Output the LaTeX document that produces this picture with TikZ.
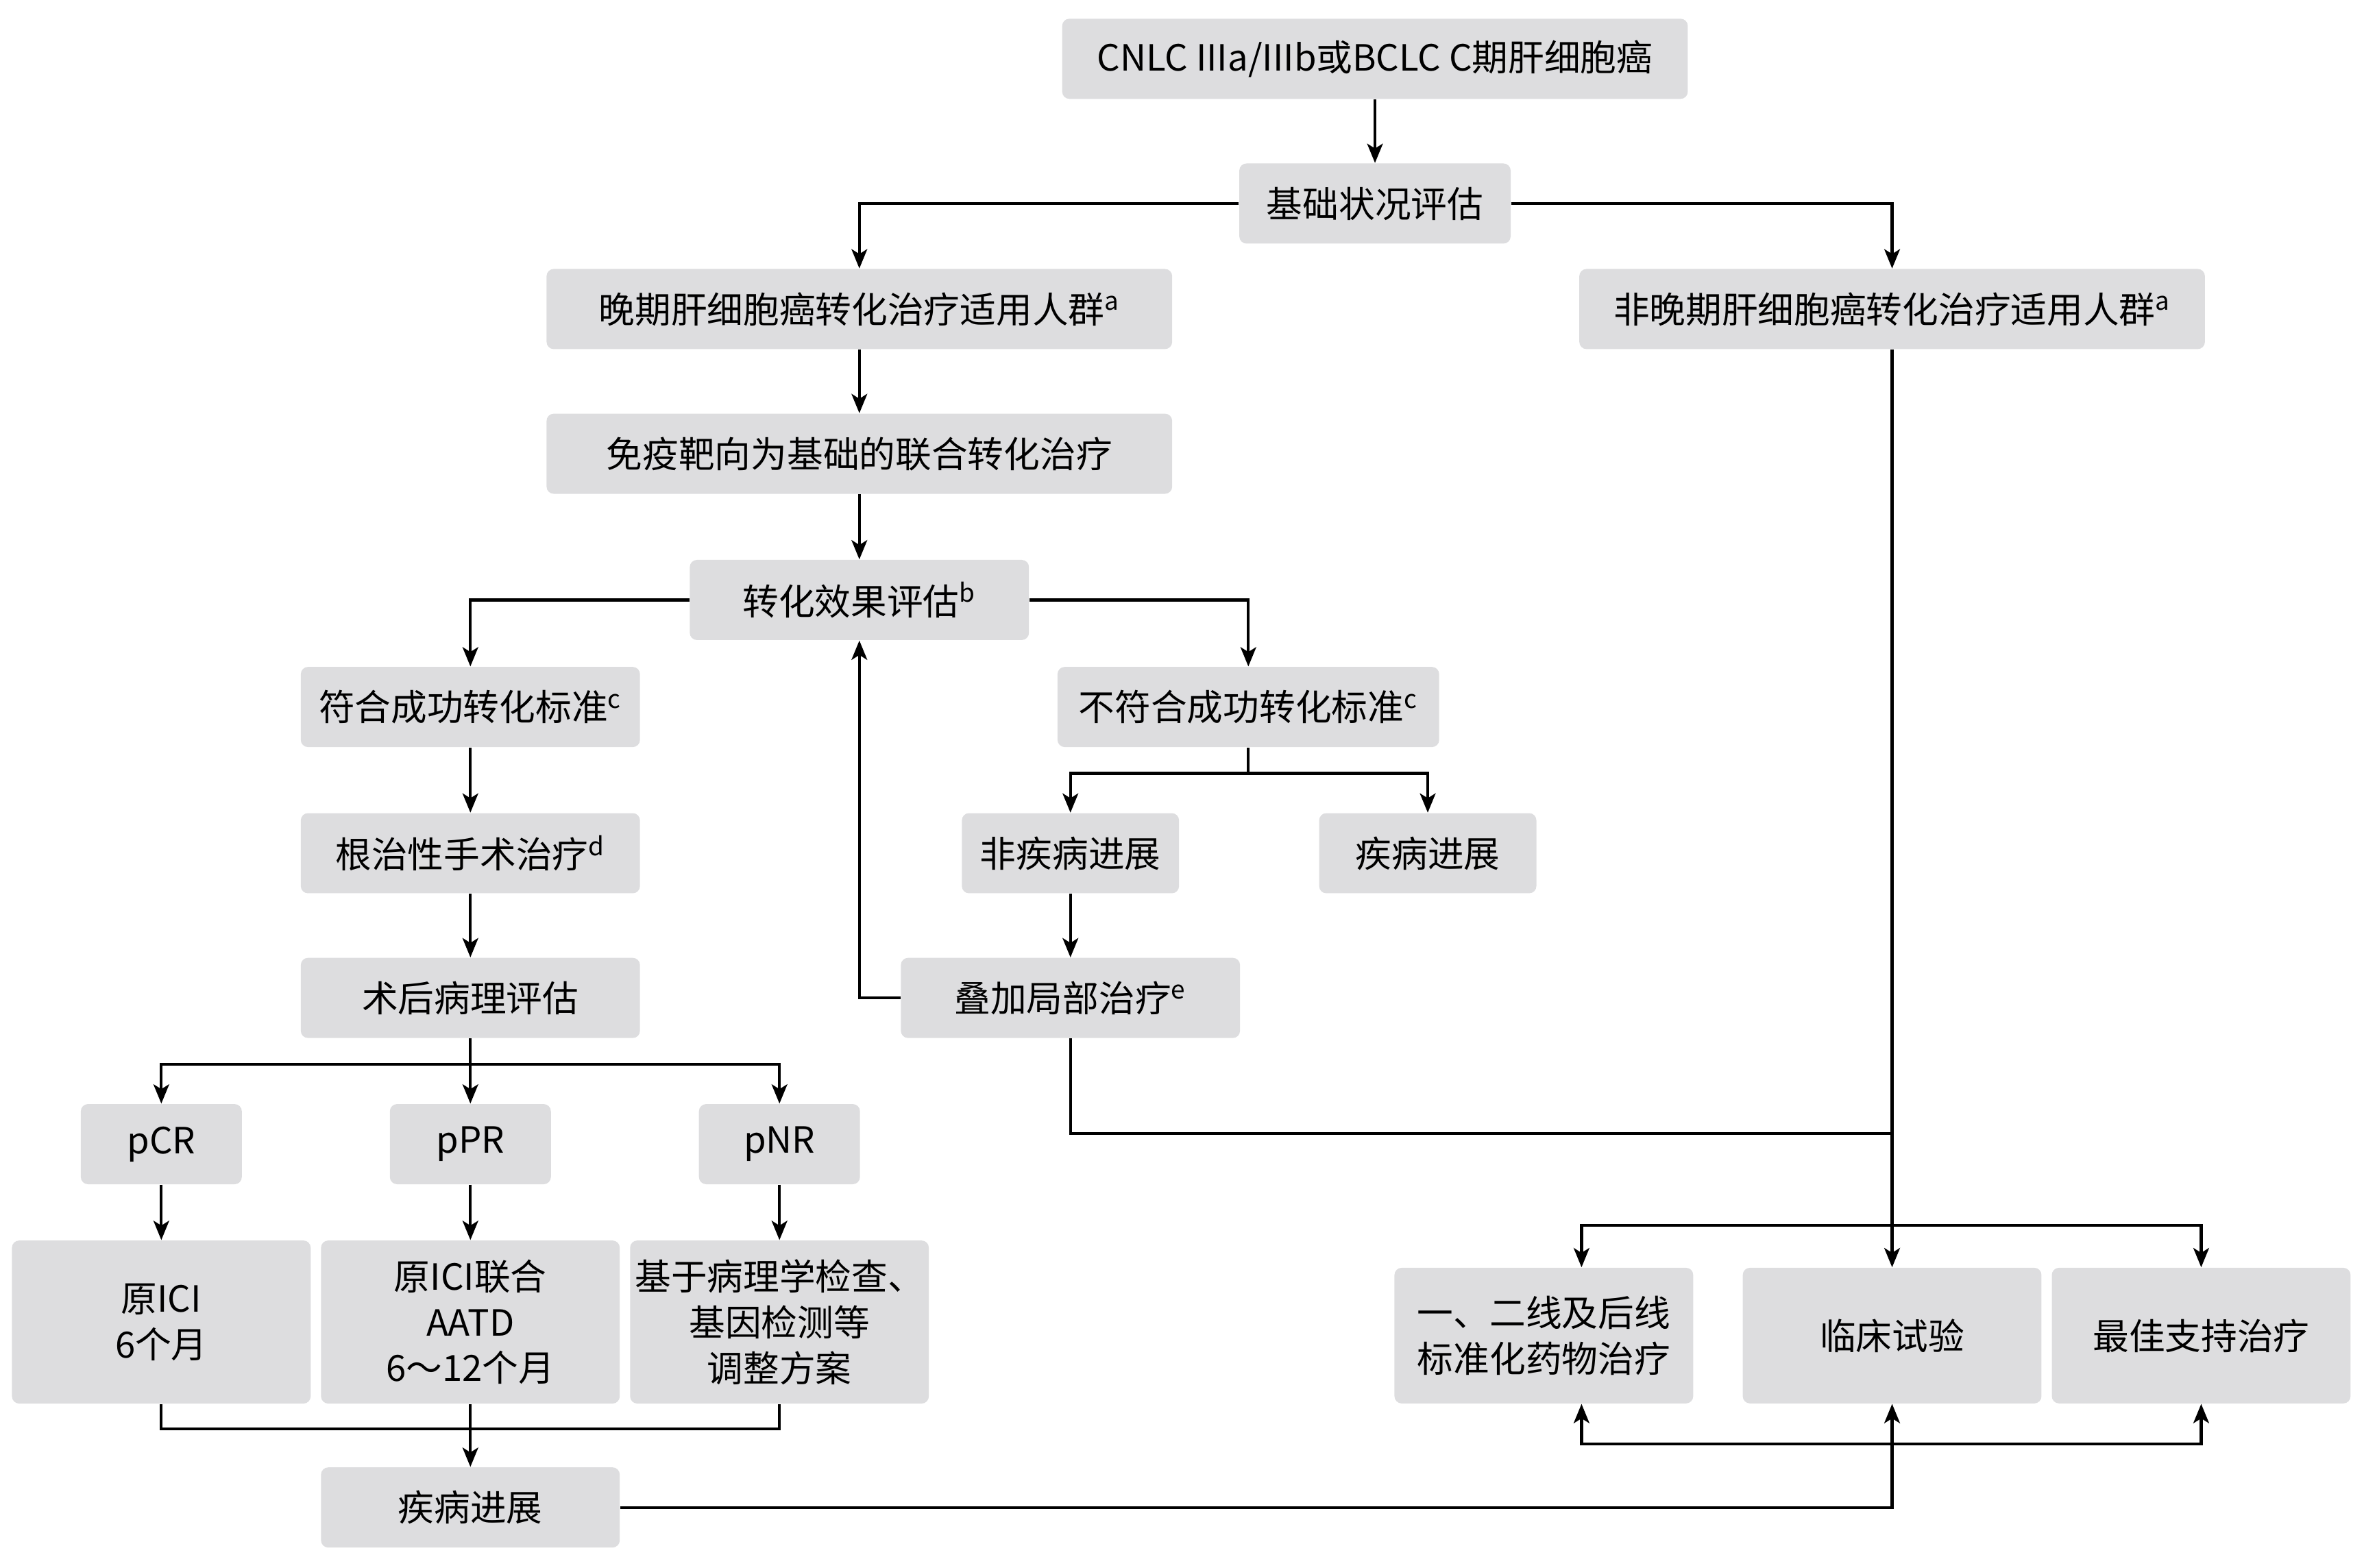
\documentclass[tikz,border=0pt]{standalone}
\usepackage{fontspec}
\setmainfont{Noto Sans CJK SC}
\usetikzlibrary{arrows.meta}
\definecolor{boxgray}{RGB}{221,221,223}
\tikzset{
  box/.style={fill=boxgray, rounded corners=3pt, inner sep=0pt, align=center,
    minimum height=1.17cm, font=\fontsize{15}{19}\selectfont},
  conn/.style={line width=1.2pt, -{Stealth[length=8pt,width=6.5pt,inset=2pt]}},
  line/.style={line width=1.2pt}
}
\begin{document}
\begin{tikzpicture}[x=0.022cm, y=-0.022cm]
        \useasboundingbox (0,0) rectangle (1568,1040);
        % top part
        \node[box, minimum width=9.13cm] (cnlc) at (912,39) {CNLC IIIa/IIIb或BCLC C期肝细胞癌};
        \node[box, minimum width=3.96cm] (base) at (912,135) {基础状况评估};
        \node[box, minimum width=9.13cm] (late) at (570,205) {晚期肝细胞癌转化治疗适用人群\textsuperscript{a}};
        \node[box, minimum width=9.13cm] (nonlate) at (1255,205) {非晚期肝细胞癌转化治疗适用人群\textsuperscript{a}};
        \node[box, minimum width=9.13cm] (immuno) at (570,301) {免疫靶向为基础的联合转化治疗};
        \node[box, minimum width=4.95cm] (evalc) at (570,398) {转化效果评估\textsuperscript{b}};
        % conversion branches
        \node[box, minimum width=4.95cm] (meet) at (312,469) {符合成功转化标准\textsuperscript{c}};
        \node[box, minimum width=5.57cm] (notmeet) at (828,469) {不符合成功转化标准\textsuperscript{c}};
        \node[box, minimum width=3.17cm] (nonprog) at (710,566) {非疾病进展};
        \node[box, minimum width=3.17cm] (prog) at (947,566) {疾病进展};
        \node[box, minimum width=4.95cm] (surgery) at (312,566) {根治性手术治疗\textsuperscript{d}};
        \node[box, minimum width=4.95cm] (local) at (710,662) {叠加局部治疗\textsuperscript{e}};
        \node[box, minimum width=4.95cm] (patho) at (312,662) {术后病理评估};
        % pathology results
        \node[box, minimum width=2.35cm] (pcr) at (107,759) {pCR};
        \node[box, minimum width=2.35cm] (ppr) at (312,759) {pPR};
        \node[box, minimum width=2.35cm] (pnr) at (517,759) {pNR};
        \node[box, minimum width=4.36cm, minimum height=2.38cm] (ici) at (107,877) {原ICI\\6个月};
        \node[box, minimum width=4.36cm, minimum height=2.38cm] (iciaatd) at (312,877) {原ICI联合\\AATD\\6～12个月};
        \node[box, minimum width=4.36cm, minimum height=2.38cm] (adjust) at (517,877) {基于病理学检查、\\基因检测等\\调整方案};
        \node[box, minimum width=4.36cm] (prog2) at (312,1000) {疾病进展};
        % final options
        \node[box, minimum width=4.36cm, minimum height=1.98cm] (lines) at (1024,886) {一、二线及后线\\标准化药物治疗};
        \node[box, minimum width=4.36cm, minimum height=1.98cm] (trial) at (1255,886) {临床试验};
        \node[box, minimum width=4.36cm, minimum height=1.98cm] (best) at (1460,886) {最佳支持治疗};
        \coordinate (nmsplit) at (828,513);
        \coordinate (psplit) at (312,706);
        \coordinate (bjoin) at (312,948);
        \coordinate (merge) at (1255,752);
        \coordinate (fanout) at (1255,813);
        \coordinate (rjoin) at (1255,958);
        % connectors
        \draw[conn] (cnlc) -- (base);
        \draw[conn] (base.west) -| (late.north);
        \draw[conn] (base.east) -| (nonlate.north);
        \draw[conn] (late) -- (immuno);
        \draw[conn] (immuno) -- (evalc);
        \draw[conn] (evalc.west) -| (meet.north);
        \draw[conn] (evalc.east) -| (notmeet.north);
        \draw[line] (notmeet.south) -- (nmsplit);
        \draw[conn] (nmsplit) -| (nonprog.north);
        \draw[conn] (nmsplit) -| (prog.north);
        \draw[conn] (nonprog) -- (local);
        \draw[conn] (local.west) -| (evalc.south);
        \draw[line] (local.south) |- (merge);
        \draw[conn] (meet) -- (surgery);
        \draw[conn] (surgery) -- (patho);
        \draw[conn] (patho) -- (ppr);
        \draw[conn] (psplit) -| (pcr.north);
        \draw[conn] (psplit) -| (pnr.north);
        \draw[conn] (pcr) -- (ici);
        \draw[conn] (ppr) -- (iciaatd);
        \draw[conn] (pnr) -- (adjust);
        \draw[line] (ici.south) |- (bjoin) -| (adjust.south);
        \draw[conn] (iciaatd) -- (prog2);
        \draw[line] (nonlate.south) -- (fanout);
        \draw[conn] (fanout) -- (trial.north);
        \draw[conn] (fanout) -| ([xshift=0.55cm]lines.north);
        \draw[conn] (fanout) -| (best.north);
        \draw[line] (prog2.east) -| (rjoin);
        \draw[conn] (rjoin) -- (trial.south);
        \draw[conn] (rjoin) -| ([xshift=0.55cm]lines.south);
        \draw[conn] (rjoin) -| (best.south);
      \end{tikzpicture}
\end{document}
